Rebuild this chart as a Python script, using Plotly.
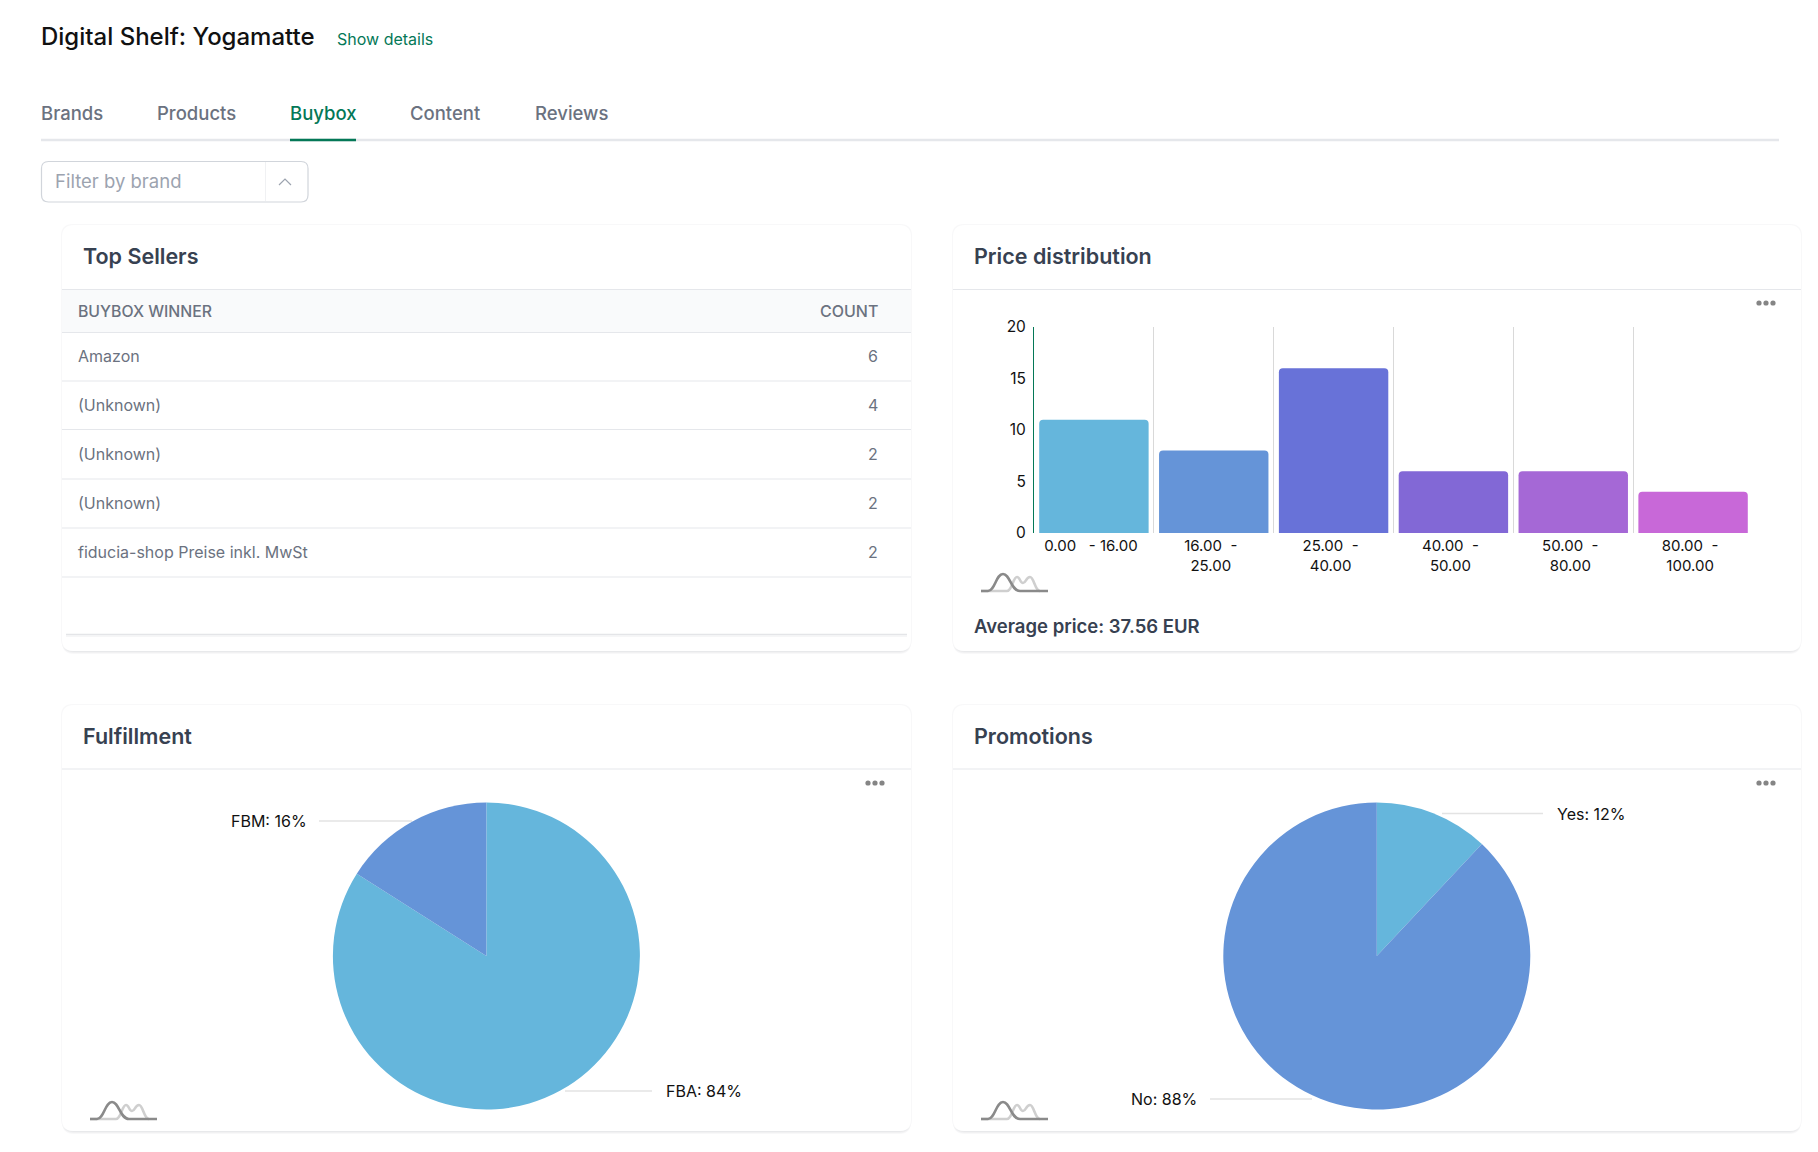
import plotly.graph_objects as go

# browser keeps 8px body margin, so the figure is a bit smaller than the window
W = 1800
H = 1130
OFF = 8
FONT = 'Inter'

tabs = ['Brands', 'Products', 'Buybox', 'Content', 'Reviews']
tab_x = [41, 157, 290, 410, 535]

seller_names = ['Amazon', '(Unknown)', '(Unknown)', '(Unknown)', 'fiducia-shop Preise inkl. MwSt']
seller_counts = [6, 4, 2, 2, 2]

price_ranges = ['0.00 \u00a0\u00a0- 16.00', '16.00 \u00a0-<br>25.00', '25.00 \u00a0-<br>40.00',
                '40.00 \u00a0-<br>50.00', '50.00 \u00a0-<br>80.00', '80.00 \u00a0-<br>100.00']
price_counts = [11, 8, 16, 6, 6, 4]
price_colors = ['#65b6dc', '#6594d8', '#6872d8', '#8268d6', '#a568d6', '#c868d8']

fulfillment_labels = ['FBA', 'FBM']
fulfillment_values = [84, 16]
promotion_labels = ['Yes', 'No']
promotion_values = [12, 88]
pie_colors = ['#65b6dc', '#6594d8']


def px(x):
    return (x - OFF) / W


def py(y):
    return 1 - (y - OFF) / H


def text(x, y, s, size, color, weight=400, anchor='left'):
    # annotations keep a small inner pad, take it off so text starts where read
    x = x - 1 if anchor == 'left' else x + 2
    return dict(x=px(x), y=py(y), xref='paper', yref='paper', text=s, showarrow=False,
                xanchor=anchor, yanchor='middle', borderpad=0,
                font=dict(family=FONT, size=size, color=color, weight=weight))


def line(x0, y0, x1, y1, color, width=1):
    return dict(type='line', xref='paper', yref='paper', x0=px(x0), y0=py(y0), x1=px(x1), y1=py(y1),
                line=dict(color=color, width=width), layer='below')


def rounded(x0, y0, x1, y1, r, fill, border=None, bwidth=1):
    p = lambda x, y: f'{px(x):.5f},{py(y):.5f}'
    path = (f'M{p(x0 + r, y0)} L{p(x1 - r, y0)} Q{p(x1, y0)} {p(x1, y0 + r)} '
            f'L{p(x1, y1 - r)} Q{p(x1, y1)} {p(x1 - r, y1)} '
            f'L{p(x0 + r, y1)} Q{p(x0, y1)} {p(x0, y1 - r)} '
            f'L{p(x0, y0 + r)} Q{p(x0, y0)} {p(x0 + r, y0)} Z')
    return dict(type='path', xref='paper', yref='paper', path=path, fillcolor=fill,
                line=dict(color=border or fill, width=bwidth if border else 0), layer='below')


def card(x0, y0, x1, y1):
    out = []
    for off, col in [(3, '#f8f8f9'), (2, '#f1f1f2'), (1, '#e8e9eb')]:
        out.append(rounded(x0, y0 + off, x1, y1 + off, 12, col))
    out.append(rounded(x0 - 1, y0 - 1, x1 + 1, y1, 12, '#f8f8f9'))
    out.append(rounded(x0, y0, x1, y1, 12, '#ffffff'))
    return out


def dots(x, y):
    out = []
    for dx in [-7, 0, 7]:
        out.append(dict(type='circle', xref='paper', yref='paper', layer='below',
                        x0=px(x + dx - 2.6), x1=px(x + dx + 2.6), y0=py(y - 2.6), y1=py(y + 2.6),
                        fillcolor='#858585', line=dict(width=0)))
    return out


def icon(x, y):
    # small logo in the corner of the chart cards, x/y is left end of baseline
    p = lambda a, b: f'{px(x + a):.5f},{py(y + b):.5f}'
    light = (f'M{p(0, 0)} L{p(26, 0)} C{p(31, 0)} {p(32, -14)} {p(36, -14)} '
             f'C{p(39, -14)} {p(39, -8)} {p(42, -8)} C{p(45, -8)} {p(45, -14)} {p(49, -14)} '
             f'C{p(53, -14)} {p(54, 0)} {p(59, 0)}')
    dark = (f'M{p(0, 0)} L{p(7, 0)} C{p(14, 0)} {p(15, -17)} {p(22, -17)} '
            f'C{p(29, -17)} {p(30, 0)} {p(39, 0)} L{p(67, 0)}')
    return [dict(type='path', xref='paper', yref='paper', path=light, layer='below',
                 line=dict(color='#cfcfcf', width=2.6)),
            dict(type='path', xref='paper', yref='paper', path=dark, layer='below',
                 line=dict(color='#8a8a8a', width=2.6))]


shapes = []
annotations = []

# page header
annotations.append(text(41, 36.5, 'Digital Shelf: Yogamatte', 24, '#111111', 500))
annotations.append(text(337, 39, 'Show details', 16, '#047857'))
for name, x in zip(tabs, tab_x):
    col = '#047857' if name == 'Buybox' else '#6b7280'
    annotations.append(text(x, 113, name, 18.5, col, 500))
shapes.append(line(41, 140, 1779, 140, '#e5e7eb', 2.5))
shapes.append(line(290, 140, 356, 140, '#047857', 2.5))

# filter box
shapes.append(rounded(41.5, 161.5, 308, 202, 7, '#ffffff', '#d1d5db', 1.2))
shapes.append(line(265.5, 162, 265.5, 201, '#f0f1f3', 1))
p = lambda a, b: f'{px(a):.5f},{py(b):.5f}'
shapes.append(dict(type='path', xref='paper', yref='paper', layer='below',
                   path=f'M{p(279, 185)} L{p(285, 179)} L{p(291, 185)}',
                   line=dict(color='#9ca3af', width=1.2)))
annotations.append(text(55, 181, 'Filter by brand', 18.5, '#9ca3af'))

# cards
cards = [(62, 225, 911, 651, 'Top Sellers', 256, 289.5),
         (953, 225, 1801, 651, 'Price distribution', 256, 289.5),
         (62, 705, 911, 1131, 'Fulfillment', 736, 769),
         (953, 705, 1801, 1131, 'Promotions', 736, 769)]
for x0, y0, x1, y1, title, ty, ly in cards:
    shapes += card(x0, y0, x1, y1)
    annotations.append(text(x0 + 21, ty, title, 21.5, '#374151', 600))
    shapes.append(line(x0, ly, x1, ly, '#e5e7eb', 1.2))

# top sellers table
shapes.append(dict(type='rect', xref='paper', yref='paper', layer='below', x0=px(62), x1=px(911),
                   y0=py(290), y1=py(332), fillcolor='#f9fafb', line=dict(width=0)))
shapes.append(line(62, 332.5, 911, 332.5, '#e5e7eb', 1.2))
annotations.append(text(78, 311, 'BUYBOX WINNER', 15.8, '#6b7280', 500))
annotations.append(text(877, 311, 'COUNT', 16, '#6b7280', 500, 'right'))
row_y = [356, 404.5, 454, 503, 552]
for name, count, y in zip(seller_names, seller_counts, row_y):
    annotations.append(text(78, y, name, 16, '#6b7280'))
    annotations.append(text(877, y, str(count), 16, '#6b7280', 400, 'right'))
    shapes.append(line(62, y + 25, 911, y + 25, '#e5e7eb', 1.2))
shapes.append(line(66, 634.5, 907, 634.5, '#e4e5e8', 1.4))
shapes.append(line(66, 636, 907, 636, '#f3f3f5', 1.5))

# extras on chart cards
shapes += dots(1766, 303) + dots(875, 783) + dots(1766, 783)
shapes += icon(981, 591) + icon(90, 1119) + icon(981, 1119)
annotations.append(text(974, 626, 'Average price: 37.56 EUR', 18.5, '#374151', 600))

# pie labels with their leader lines
pie_notes = [(fulfillment_labels[1], fulfillment_values[1], 319, 412, 821, 305.5, 'right'),
             (fulfillment_labels[0], fulfillment_values[0], 565, 652, 1091, 666, 'left'),
             (promotion_labels[0], promotion_values[0], 1442, 1543, 813.5, 1556.5, 'left'),
             (promotion_labels[1], promotion_values[1], 1210, 1312, 1099, 1196, 'right')]
for lab, val, lx0, lx1, y, tx, anchor in pie_notes:
    shapes.append(line(lx0, y, lx1, y, '#e3e3e3', 1.4))
    annotations.append(text(tx, y, f'{lab}: {val}%', 16, '#111111', 400, anchor))

fig = go.Figure()
fig.add_trace(go.Bar(x=price_ranges, y=price_counts, width=0.913,
                     marker=dict(color=price_colors, cornerradius=4, line=dict(width=0)),
                     hoverinfo='skip'))
for labels, values, cx in [(fulfillment_labels, fulfillment_values, 486.4),
                           (promotion_labels, promotion_values, 1376.8)]:
    fig.add_trace(go.Pie(labels=labels, values=values, sort=False, direction='clockwise', rotation=0,
                         textinfo='none', hoverinfo='skip', showlegend=False,
                         marker=dict(colors=pie_colors, line=dict(width=0)),
                         domain=dict(x=[px(cx - 153.5), px(cx + 153.5)], y=[py(1109.5), py(802.5)])))

fig.update_layout(
    width=W, height=H,
    margin=dict(l=0, r=0, t=0, b=0, autoexpand=False),
    paper_bgcolor='#ffffff',
    plot_bgcolor='rgba(0,0,0,0)',
    showlegend=False,
    shapes=shapes,
    annotations=annotations,
    xaxis=dict(domain=[px(1034), px(1753)], type='category', range=[-0.5, 5.5], tickson='boundaries',
               showgrid=True, gridcolor='#d9d9d9', gridwidth=1, zeroline=False, showline=False,
               ticks='', tickangle=0, ticklabelstandoff=2, ticklabelshift=-3, automargin=False,
               tickfont=dict(family=FONT, size=15, color='#111111')),
    yaxis=dict(domain=[py(533), py(327)], range=[0, 20], tickvals=[0, 5, 10, 15, 20], showgrid=False,
               zeroline=False, showline=True, linecolor='#047857', linewidth=1, ticks='', automargin=False,
               ticklabelstandoff=4, tickfont=dict(family=FONT, size=15.5, color='#111111')),
)

fig.write_html("out.html")
